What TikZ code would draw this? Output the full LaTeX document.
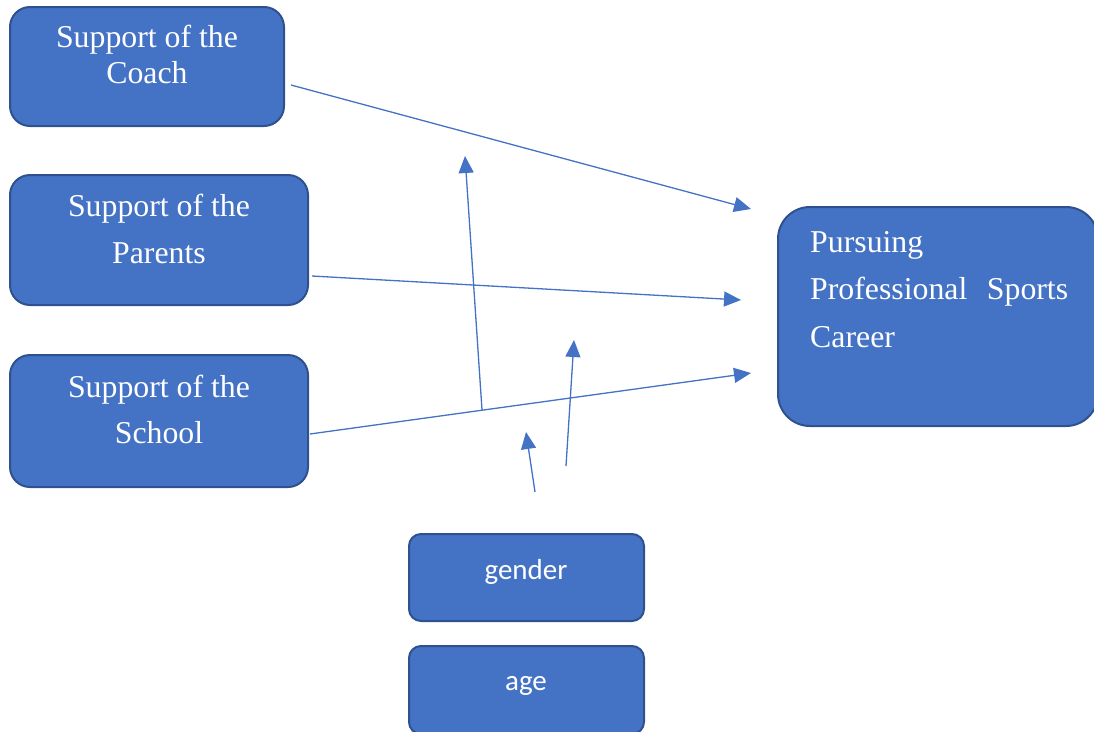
\documentclass[tikz,border=0pt]{standalone}
\usepackage{fontspec}
\setmainfont{Liberation Serif}
\newfontfamily\calib{Carlito}
\usetikzlibrary{arrows.meta}
\definecolor{boxfill}{HTML}{4472C4}
\definecolor{boxedge}{HTML}{2F528F}
\definecolor{arrowc}{HTML}{4472C4}
\begin{document}
\begin{tikzpicture}[x=1pt,y=-1pt,
  boxnode/.style={draw=boxedge, line width=2pt, fill=boxfill, inner sep=0pt, outer sep=0pt},
  serif/.style={text=white, inner sep=0pt, anchor=base, font=\fontsize{31.8}{36}\selectfont},
  sans/.style={text=white, inner sep=0pt, anchor=base, font=\calib\fontsize{29}{32}\selectfont},
  conn/.style={draw=arrowc, line width=1.3pt, -{Triangle[length=17pt,width=15pt]}}]
\useasboundingbox (0,0) rectangle (1094,731);
% boxes
\node[boxnode, rounded corners=20pt, minimum width=274pt, minimum height=119pt] (coach) at (147,66.5) {};
\node[boxnode, rounded corners=20pt, minimum width=298pt, minimum height=130pt] (parents) at (159,240) {};
\node[boxnode, rounded corners=20pt, minimum width=298pt, minimum height=132pt] (school) at (159,421) {};
\node[boxnode, rounded corners=32pt, minimum width=320pt, minimum height=219pt] (career) at (938,316.5) {};
\node[boxnode, rounded corners=12pt, minimum width=235pt, minimum height=87pt] (gender) at (526.5,577.5) {};
\node[boxnode, rounded corners=12pt, minimum width=235pt, minimum height=88pt] (age) at (526.5,690) {};
% texts
\node[serif] (coachA) at (147,47) {Support of the};
\node[serif] (coachB) at (147,83) {Coach};
\node[serif] (parentsA) at (159,216) {Support of the};
\node[serif] (parentsB) at (159,263) {Parents};
\node[serif] (schoolA) at (159,397) {Support of the};
\node[serif] (schoolB) at (159,443) {School};
\node[serif, anchor=base west] (careerA) at (810,252) {Pursuing};
\node[serif, anchor=base west] (careerB) at (810,299) {\makebox[258pt][s]{Professional\hfill Sports}};
\node[serif, anchor=base west] (careerC) at (810,347) {Career};
\node[sans] (genderT) at (526,579) {gender};
\node[sans] (ageT) at (526,690) {age};
% connector end points
\coordinate (c1s) at (291,85);   \coordinate (c1e) at (751,209);
\coordinate (c2s) at (312,276);  \coordinate (c2e) at (741,300);
\coordinate (c3s) at (310,434);  \coordinate (c3e) at (751,373);
\coordinate (m1s) at (482,410);  \coordinate (m1e) at (465,156);
\coordinate (m2s) at (566,466);  \coordinate (m2e) at (574,340);
\coordinate (m3s) at (535,492);  \coordinate (m3e) at (526,432);
\draw[conn] (c1s) -- (c1e);
\draw[conn] (c2s) -- (c2e);
\draw[conn] (c3s) -- (c3e);
\draw[conn] (m1s) -- (m1e);
\draw[conn] (m2s) -- (m2e);
\draw[conn] (m3s) -- (m3e);
\end{tikzpicture}
\end{document}
